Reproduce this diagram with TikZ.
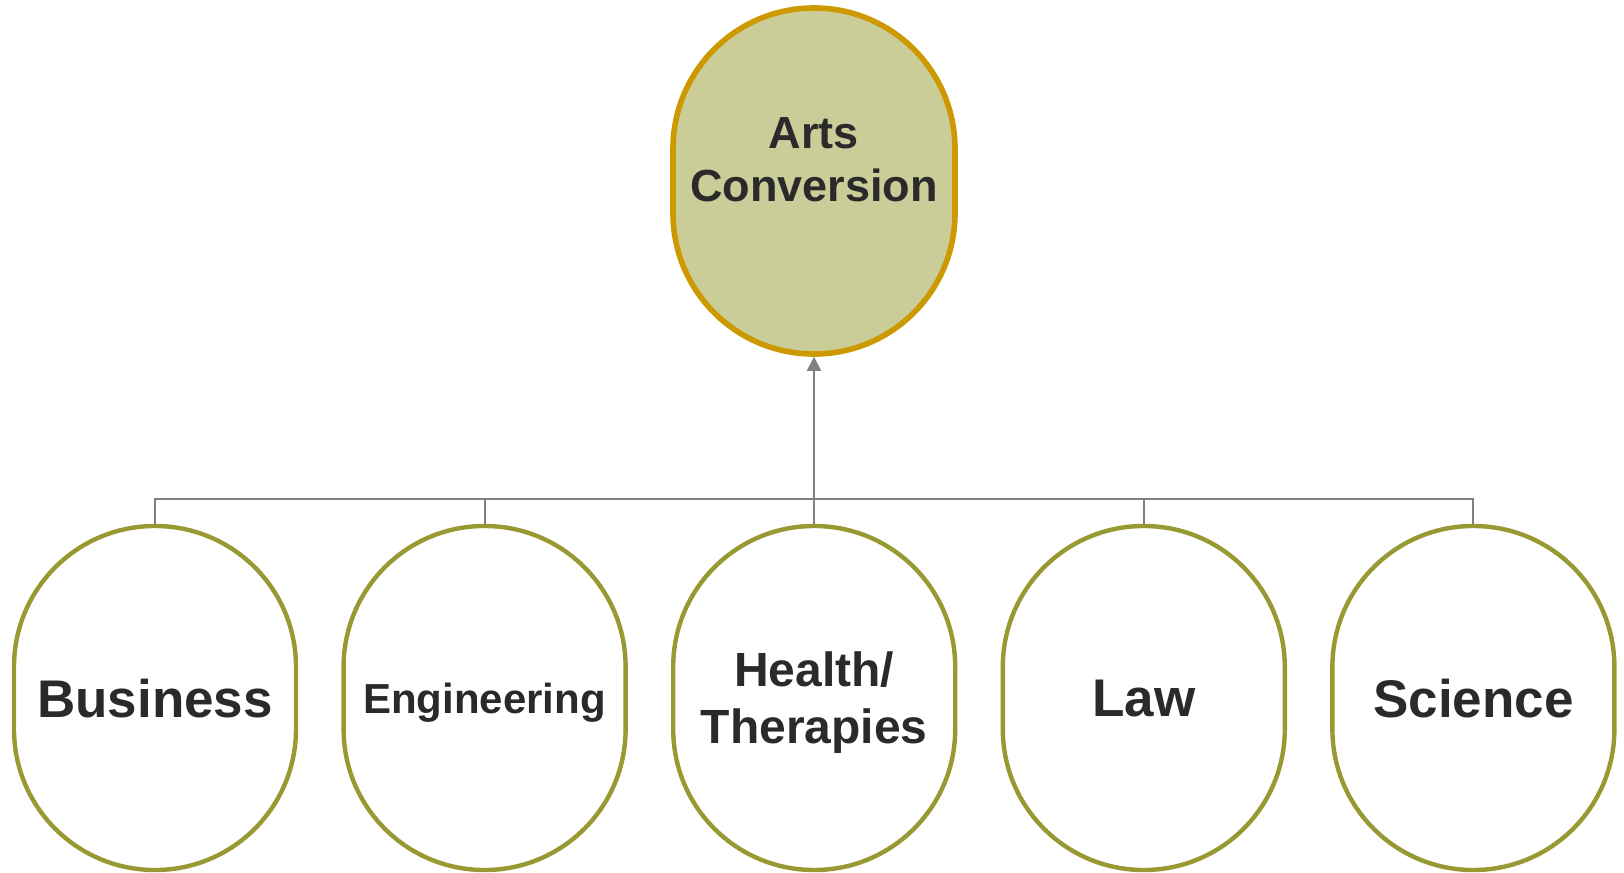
\documentclass[tikz,border=0pt]{standalone}
\usepackage{fontspec}
\setmainfont{Liberation Sans}
\usetikzlibrary{arrows.meta}
\definecolor{khaki}{RGB}{203,205,153}
\definecolor{goldrim}{RGB}{204,153,0}
\definecolor{olivrim}{RGB}{153,153,51}
\definecolor{ink}{RGB}{42,42,42}
\definecolor{wirecol}{RGB}{128,128,128}

\begin{document}
\begin{tikzpicture}[x=0.5pt, y=-0.5pt,
    pill/.style={draw, rectangle, rounded corners=70.4pt, minimum width=141pt,
        minimum height=172pt, inner sep=0pt, align=center, text=ink},
    field/.style={pill, draw=olivrim, fill=white, line width=2.2pt, text depth=0pt},
    wire/.style={draw=wirecol, line width=1pt}]
    \useasboundingbox (0,0) rectangle (1624,873);

    \node[pill, draw=goldrim, fill=khaki, line width=2.8pt, minimum height=173pt,
        text depth=21pt, font=\bfseries\fontsize{22.5}{26.5}\selectfont]
        (arts) at (814,181) {Arts\\Conversion};

    \foreach \i/\nm/\fs/\txt in {0/bus/26.5/Business, 1/eng/21/Engineering,
        2/hea/24/{Health/\\Therapies}, 3/law/26.5/Law, 4/sci/26.5/Science} {
        \node[field, font=\bfseries\fontsize{\fs}{28.5}\selectfont]
            (\nm) at ({155+329.6*\i}, 698) {\txt};
    }

    \coordinate (hub) at (814,499);
    \foreach \nm in {bus, eng, hea, law, sci} {
        \draw[wire] (\nm.north) |- (hub);
    }
    \draw[wire, -{Triangle[length=7pt, width=7pt]}] (hub) -- (arts.south);
\end{tikzpicture}
\end{document}
